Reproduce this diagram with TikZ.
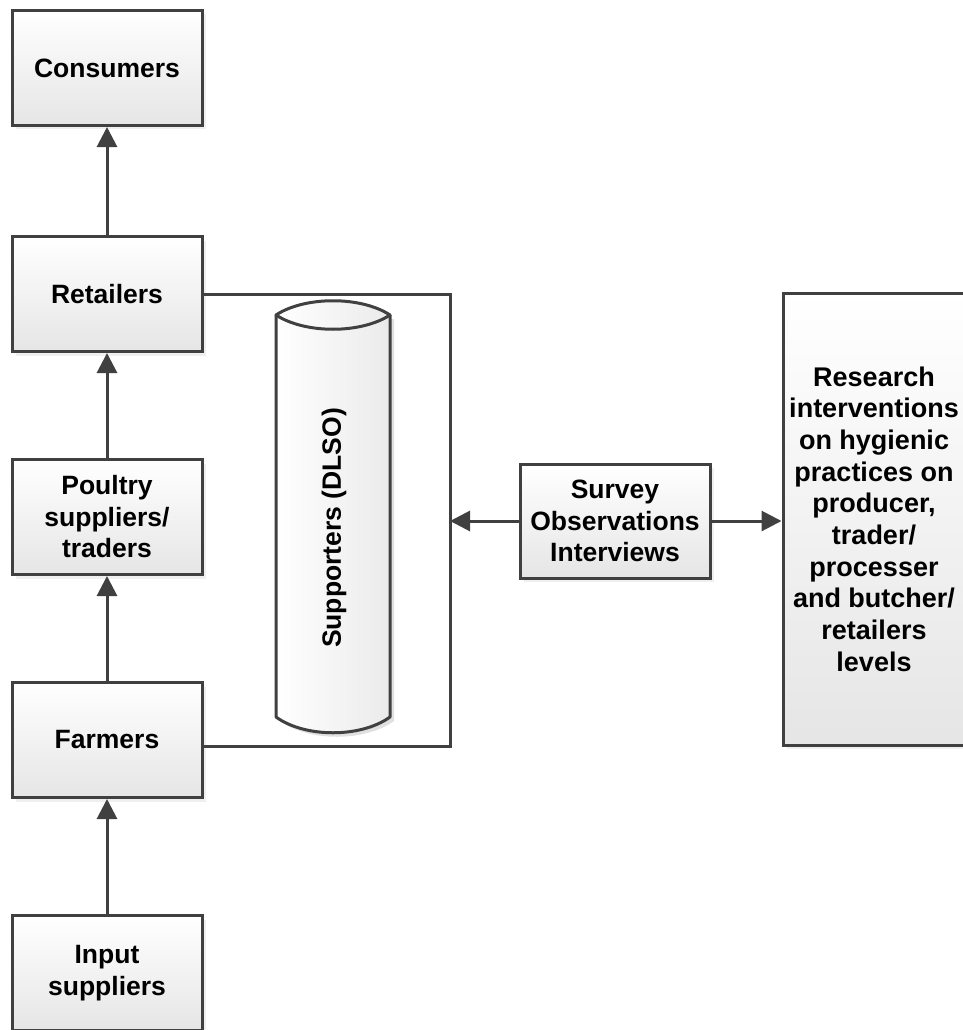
\documentclass[tikz,border=0pt]{standalone}
\usepackage{fontspec}
\setmainfont{Liberation Sans}
\usetikzlibrary{arrows.meta,shadows}
\definecolor{lc}{HTML}{404040}
\tikzset{
  flowbox/.style={draw=lc, line width=3pt, top color=white, bottom color=black!10,
    drop shadow={shadow xshift=4pt, shadow yshift=-4pt, fill=black!12},
    minimum width=190pt, minimum height=115pt, align=center, inner sep=2pt,
    font=\fontsize{26.5pt}{31.5pt}\selectfont\bfseries},
  conn/.style={draw=lc, line width=3pt},
  arr/.style={conn, -{Triangle[length=20pt,width=20pt]}},
}
\begin{document}
\begin{tikzpicture}[x=1pt,y=-1pt]
\useasboundingbox (0,0) rectangle (963,1030);
% left column
\node[flowbox] (cons) at (107,68) {Consumers};
\node[flowbox] (ret) at (107,294) {Retailers};
\node[flowbox] (poul) at (107,517) {Poultry\\suppliers/\\traders};
\node[flowbox] (farm) at (107,740) {Farmers};
\node[flowbox] (inp) at (107,973) {Input\\suppliers};
\draw[arr] (ret.north) -- (cons.south);
\draw[arr] (poul.north) -- (ret.south);
\draw[arr] (farm.north) -- (poul.south);
\draw[arr] (inp.north) -- (farm.south);
% bracket
\coordinate (bt) at (450,294);
\coordinate (bb) at (450,746);
\draw[conn] (ret.east) -- (bt) -- (bb) -- (farm.east |- bb);
% cylinder
\fill[black!12] (280,319) -- (394,319) -- (394,721) .. controls (365,742) and (309,742) .. (280,721) -- cycle;
\shade[left color=white, right color=black!8]
  (276,315) .. controls (305,296) and (361,296) .. (390,315) -- (390,717)
  .. controls (361,738) and (305,738) .. (276,717) -- cycle;
\draw[conn, line join=round]
  (276,315) .. controls (305,296) and (361,296) .. (390,315)
  .. controls (361,334) and (305,334) .. (276,315) -- cycle;
\draw[conn, line join=round] (276,315) -- (276,717)
  .. controls (305,738) and (361,738) .. (390,717) -- (390,315);
\node[rotate=90, font=\fontsize{26.5pt}{31.5pt}\selectfont\bfseries] (supp) at (334,528) {Supporters (DLSO)};
% survey and research
\node[flowbox, minimum height=114pt] (surv) at (615,521) {Survey\\Observations\\Interviews};
\node[flowbox, minimum width=182pt, minimum height=452pt,
  font=\fontsize{27pt}{31.7pt}\selectfont\bfseries] (res) at (874,519)
  {Research\\interventions\\on hygienic\\practices on\\producer,\\trader/\\processer\\and butcher/\\retailers\\levels};
\draw[arr] (surv.west) -- (surv.west -| bt);
\draw[arr] (surv.east) -- (res.west |- surv.east);
\end{tikzpicture}
\end{document}
